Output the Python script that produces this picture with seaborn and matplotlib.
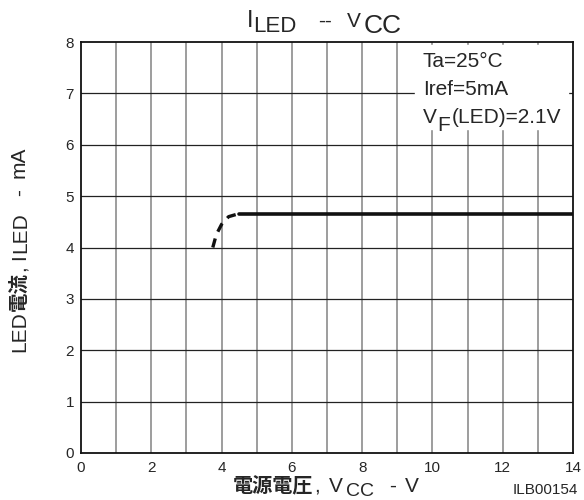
import numpy as np
import pandas as pd
import matplotlib
matplotlib.use('Agg')
import matplotlib.pyplot as plt
import seaborn as sns
from matplotlib.transforms import IdentityTransform

# data
vcc_rise = [3.75, 3.85, 4.0, 4.2, 4.45]
iled_rise = [4.0, 4.25, 4.45, 4.6, 4.65]
vcc_flat = [4.5, 14.0]
iled_flat = [4.65, 4.65]

x_ticks = [0, 2, 4, 6, 8, 10, 12, 14]
y_ticks = [0, 1, 2, 3, 4, 5, 6, 7, 8]
cond_lines = ['Ta=25°C', 'Iref=5mA']

sns.set_style('white')
LAT = 'Liberation Sans'
CJK = 'Noto Sans CJK JP'
plt.rcParams['font.family'] = [LAT, 'DejaVu Sans']

fig = plt.figure(figsize=(5.84, 5.0), dpi=100)
ax = fig.add_axes([81/584, 1 - 453/500, (573-81)/584, (453-42)/500])

rise_df = pd.DataFrame({'vcc': vcc_rise, 'iled': iled_rise})
flat_df = pd.DataFrame({'vcc': vcc_flat, 'iled': iled_flat})
sns.lineplot(data=rise_df, x='vcc', y='iled', ax=ax, color='#111111',
             linewidth=2.4, sort=False, estimator=None,
             linestyle=(0, (2.8, 2.2)), zorder=5)
sns.lineplot(data=flat_df, x='vcc', y='iled', ax=ax, color='#111111',
             linewidth=2.6, sort=False, estimator=None, zorder=5)

ax.set_xlim(0, 14)
ax.set_ylim(0, 8)
for v in range(1, 14):
    ax.axvline(v, color='#959595', linewidth=1.3, zorder=1)
for h in range(1, 8):
    ax.axhline(h, color='#222222', linewidth=0.9, zorder=1)
ax.set_xticks(x_ticks)
ax.set_yticks(y_ticks)
ax.set_xticklabels([str(t) for t in x_ticks], fontsize=11, family=LAT)
ax.set_yticklabels([str(t) for t in y_ticks], fontsize=11, family=LAT)
ax.tick_params(length=0)
ax.tick_params(axis='x', pad=6)
ax.tick_params(axis='y', pad=5)
ax.set_xlabel('')
ax.set_ylabel('')
for s in ax.spines.values():
    s.set_color('#111111')
    s.set_linewidth(1.3)
    s.set_visible(True)

# white box behind conditions
ax.fill_between([9.5, 13.86], 6.3, 7.94, color='white', zorder=3)
ty = 7.51
for line in cond_lines:
    ax.text(9.73, ty, line, fontsize=15, family=LAT, va='baseline', zorder=6)
    ty -= 0.54


def rich(parts, base, rotation=0):
    # parts: (text, start pixel along the line, size, family, weight, shift)
    for s, pos, size, fam, weight, shift in parts:
        if rotation:
            fig.text(base + shift, pos, s, fontsize=size, family=fam, fontweight=weight,
                     rotation=90, rotation_mode='anchor', ha='left', va='baseline',
                     transform=IdentityTransform())
        else:
            fig.text(pos, base + shift, s, fontsize=size, family=fam, fontweight=weight,
                     ha='left', va='baseline', transform=IdentityTransform(), zorder=6)


# V_F(LED)=2.1V inside the box
bx, by = ax.transData.transform((9.73, ty))
rich([('V', bx, 15, LAT, 'normal', 0), ('F', bx + 14, 15, LAT, 'normal', -8),
      ('(LED)=2.1V', bx + 29, 15, LAT, 'normal', 0)], by)

# title
rich([('I', 247, 17, LAT, 'normal', 0), ('LED', 253, 16, LAT, 'normal', -5),
      ('--', 318, 15, LAT, 'normal', 0), ('V', 347, 15, LAT, 'normal', 0),
      ('CC', 364, 19, LAT, 'normal', -6)], 473)

# x label
rich([('電源電圧', 233, 14.5, CJK, 'bold', 0), (',', 314, 15, LAT, 'normal', 0),
      ('V', 329, 15, LAT, 'normal', 0), ('CC', 346, 14, LAT, 'normal', -4),
      ('-', 389, 15, LAT, 'normal', 0), ('V', 405, 15, LAT, 'normal', 0)], 8)

# y label
rich([('LED', 148, 15, LAT, 'normal', 0), ('電流', 189, 14, CJK, 'bold', 0),
      (',', 229, 15, LAT, 'normal', 0), ('I', 240, 15, LAT, 'normal', 0),
      ('LED', 247, 15, LAT, 'normal', 1), ('-', 304, 15, LAT, 'normal', 0),
      ('mA', 322, 15, LAT, 'normal', 0)], 25, rotation=90)

fig.text(578/584, 6/500, 'ILB00154', fontsize=11, family=LAT, ha='right', va='baseline')

fig.savefig('out.png', dpi=100)
